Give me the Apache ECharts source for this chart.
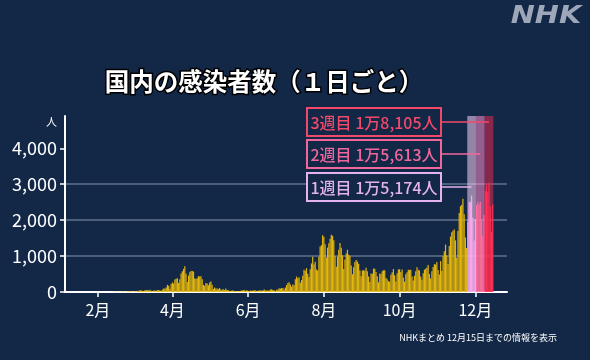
<!DOCTYPE html>
<html><head><meta charset="utf-8">
<script src="https://cdn.jsdelivr.net/npm/echarts@6/dist/echarts.min.js"></script>
<style>html,body{margin:0;padding:0;background:#132847;} #c{width:590px;height:360px;}</style>
</head><body><div id="c"></div>
<script>
// ---- data ----
const monthDays = [31,29,31,30,31,30,31,31,30,31,30,31];
const axisStart = [1, 6];   // Jan 6
const axisEnd = [12, 26];   // Dec 26
const jan = [0,0,0,0,0,0,0,0,0,0, 1,0,0,0,0,0,0,0, 1,1,1,0,2,1,3,2]; // from Jan 6
const feb = [2,0,0,0,0,1,0,0,0,1,0,1,3,8,9,6,7,6,3,11,7,7,5,10,13,20,17,20,10];
const mar = [16,18,12,34,31,59,45,33,26,59,52,56,41,63,33,15,44,39,36,52,55,41,38,66,98,96,123,200,173,88,220];
const apr = [266,235,351,367,383,250,352,515,576,644,720,507,280,457,549,585,584,568,375,367,383,442,434,441,352,198,172,250,239,186];
const may = [263,294,203,87,123,96,99,84,111,60,70,80,55,99,55,58,30,26,41,39,30,25,30,31,21,38,41,54,49,38,47];
const jun = [36,26,44,36,40,46,44,25,38,50,41,41,49,72,41,40,43,44,69,78,55,49,31,61,70,105,94,111,109,73];
const jul = [127,195,249,274,208,147,207,191,355,430,385,408,256,332,449,622,594,664,510,419,633,795,981,767,844,627,597,980,1264,1301,1580];
const aug = [1536,1331,963,1235,1357,1485,1595,1565,1442,1003,700,985,1177,1363,1233,1020,640,903,1073,1176,1034,997,741,495,690,837,891,849,788,600,441];
const sep = [596,603,589,673,577,432,278,516,509,652,646,557,438,270,512,500,580,605,605,396,352,303,284,480,551,637,469,294,521,629];
const oct = [634,558,624,404,288,497,553,617,612,621,431,321,453,577,692,618,598,429,340,524,621,650,684,755,504,377,576,699,775,765,834];
const nov = [613,488,859,585,996,1133,1321,1016,778,1284,1543,1661,1706,1738,1438,951,1697,2201,2388,2427,2596,2168,1518,1228,1951,2504,2505,2684,2065,1434];
const dec = [2031,2416,2507,2439,2508,2029,1563,2151,2810,2973,2788,3041,2377,1679,2437]; // to Dec 15
const tickMonths = [2,4,6,8,10,12];
const yTicks = [0,1000,2000,3000,4000];
const yMax = 4900;
const weekStarts = ['11/25','12/2','12/9'];
const weekEnds = ['12/1','12/8','12/15'];
const weekLabels = ['1週目 1万5,174人','2週目 1万5,613人','3週目 1万8,105人'];

// ---- styles ----
const BG = '#132847';
const barColor = '#e4b60c';
const weekBarColors = ['#f8a8ee','#ff6b9c','#ff2e52'];
const weekAreaColors = ['rgba(240,200,240,0.58)','rgba(255,140,200,0.55)','rgba(230,40,80,0.55)'];
const weekBoxColors = ['#e4b2ee','#f0679c','#f2486a'];
const boxTops = [173,140,108];
const boxH = 28, boxX = 307, boxW = 134;
const FONT = '"Noto Sans CJK JP", "Noto Sans", sans-serif';

const categories = [];
for (let m = 1; m <= 12; m++) {
  for (let d = 1; d <= monthDays[m-1]; d++) {
    if (m === axisStart[0] && d < axisStart[1]) continue;
    if (m === axisEnd[0] && d > axisEnd[1]) continue;
    categories.push(m + '/' + d);
  }
}
const values = [].concat(jan,feb,mar,apr,may,jun,jul,aug,sep,oct,nov,dec);
while (values.length < categories.length) values.push(null);

const wS = weekStarts.map(s => categories.indexOf(s));
const wE = weekEnds.map(s => categories.indexOf(s));
function weekOf(i){ for (let w=0; w<3; w++) if (i>=wS[w] && i<=wE[w]) return w; return -1; }
function isTick(v){ const p = v.split('/'); return p[1]==='1' && tickMonths.indexOf(+p[0])>=0; }
function fmt(v){ return String(v).replace(/\B(?=(\d{3})+(?!\d))/g, ','); }

const chart = echarts.init(document.getElementById('c'), null, {renderer:'canvas'});
const graphics = [];
for (let w = 0; w < 3; w++) {
  graphics.push({type:'rect', shape:{x:boxX, y:boxTops[w], width:boxW, height:boxH},
    style:{fill:BG, stroke:weekBoxColors[w], lineWidth:2}, z:10});
  graphics.push({type:'text', x:boxX+boxW/2, y:boxTops[w]+boxH/2+1,
    style:{text:weekLabels[w], align:'center', verticalAlign:'middle', fill:weekBoxColors[w],
      font:'500 16px ' + FONT}, z:11});
}
graphics.push({type:'text', x:264, y:82,
  style:{text:'国内の感染者数（１日ごと）', align:'center', verticalAlign:'middle', fill:'#fff',
    font:'bold 24.5px ' + FONT, stroke:'#000', lineWidth:3}, z:10});
graphics.push({type:'text', x:546, y:16, scaleX:1.15,
  style:{text:'NHK', align:'center', verticalAlign:'middle', fill:'#9da7b8',
    font:'italic bold 25px "DejaVu Sans", sans-serif'}, z:10});
graphics.push({type:'text', x:557, y:338,
  style:{text:'NHKまとめ 12月15日までの情報を表示', align:'right', verticalAlign:'middle', fill:'#fff',
    font:'9px ' + FONT}, z:10});

chart.setOption({
  backgroundColor: BG,
  animation: false,
  textStyle: {fontFamily: FONT},
  grid: {left:65, right:83, top:116, bottom:68, containLabel:false},
  xAxis: {
    type:'category', data: categories, boundaryGap:true,
    axisLine:{show:true, lineStyle:{color:'#fff', width:2}},
    axisTick:{show:true, alignWithLabel:true, interval:(i,v)=>isTick(v), length:5, lineStyle:{color:'#fff', width:1.5}},
    axisLabel:{interval:(i,v)=>isTick(v), formatter:v=>v.split('/')[0]+'月', color:'#fff', fontSize:16, margin:10, fontFamily:FONT},
    splitLine:{show:false}
  },
  yAxis: {
    type:'value', min:0, max:yMax, interval:1000,
    axisLine:{show:true, lineStyle:{color:'#fff', width:2}},
    axisTick:{show:true, length:5, customValues:yTicks, lineStyle:{color:'#fff', width:1.5}},
    axisLabel:{customValues:yTicks, color:'#fff', fontSize:18, margin:8, formatter:fmt, fontFamily:FONT},
    splitLine:{show:true, showMinLine:false, showMaxLine:false, lineStyle:{color:'#61728d', width:1.5}},
    name:'人', nameLocation:'end', nameGap:-6,
    nameTextStyle:{color:'#fff', fontSize:11, align:'right', verticalAlign:'middle', padding:[0,8,0,0]}
  },
  graphic: graphics,
  series: [
    {
      type:'custom', z:1, silent:true,
      data: wS.map((s,w)=>[s, wE[w], yMax, w]),
      encode:{x:[0,1], y:2},
      renderItem:function(params, api){
        const s = api.value(0), e = api.value(1), top = api.value(2), w = api.value(3);
        const bw = api.size([1,0])[0];
        const pT = api.coord([s, top]);
        const pB = api.coord([e, 0]);
        const x0 = pT[0]-bw/2, x1 = pB[0]+bw/2;
        const cy = boxTops[w] + boxH/2;
        return {type:'group', children:[
          {type:'rect', shape:{x:x0, y:pT[1], width:x1-x0, height:pB[1]-pT[1]}, style:{fill:weekAreaColors[w]}},
          {type:'line', shape:{x1:boxX+boxW, y1:cy, x2:(x0+x1)/2, y2:cy}, style:{stroke:weekBoxColors[w], lineWidth:1.5}}
        ]};
      }
    },
    {
      type:'bar', z:2, data: values, barCategoryGap:'4%',
      itemStyle:{color:function(p){ const w = weekOf(p.dataIndex); return w<0 ? barColor : weekBarColors[w]; }}
    }
  ]
});
</script></body></html>
